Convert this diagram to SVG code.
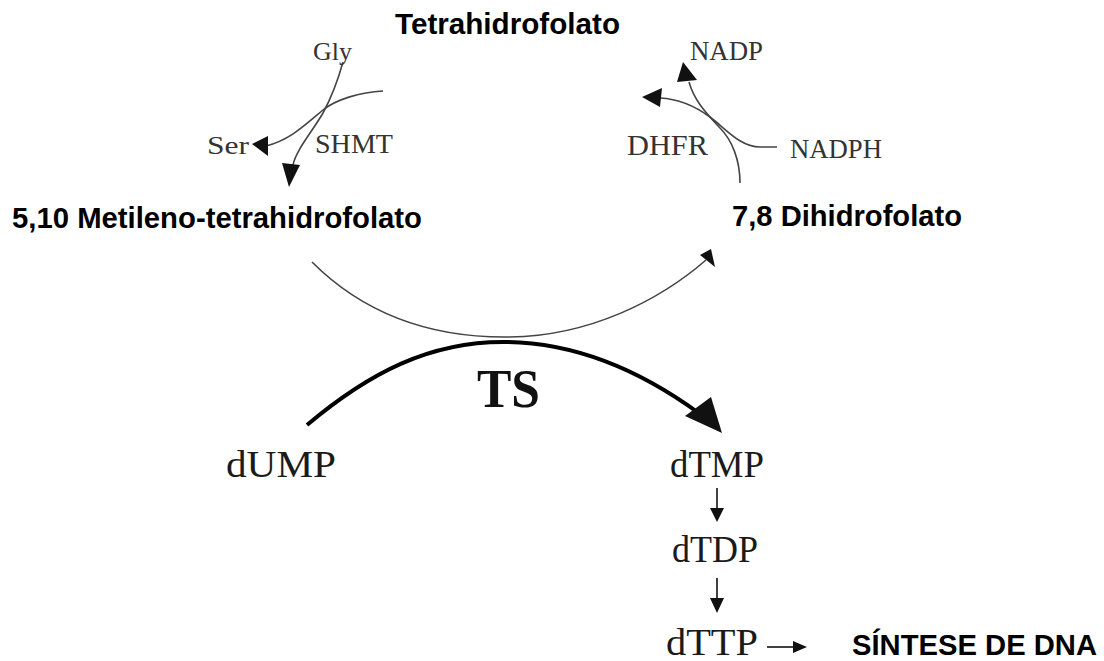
<svg xmlns="http://www.w3.org/2000/svg" width="1104" height="661" viewBox="0 0 1104 661">
<style>
.hd{font-family:"Liberation Sans",Arial,sans-serif;font-weight:bold;font-size:29px;fill:#000}
.sm{font-family:"Liberation Serif","Times New Roman",serif;font-size:27px;fill:#333}
.nu{font-family:"Liberation Serif","Times New Roman",serif;font-size:37px;fill:#1a1a1a}
.thin{fill:none;stroke:#444;stroke-width:1.6}
.ah{fill:#111;stroke:none}
</style>
<rect width="1104" height="661" fill="#fff"/>
<g id="connectors">
  <path class="thin" d="M343,62 C338,80 330,100 323,113 C312,132 296,150 293,165"/>
  <polygon class="ah" points="282,163 300,165 289,187"/>
  <path class="thin" d="M383,91 C360,92 335,100 323,110 C305,125 290,140 266,146"/>
  <polygon class="ah" points="252,144 268,136 268,156"/>
  <path class="thin" d="M740,183 C740,160 732,140 720,128 C705,112 694,100 689,82"/>
  <polygon class="ah" points="677,82 697,80 683,62"/>
  <path class="thin" d="M777,147 L760,147 C740,147 725,128 710,117 C695,106 680,99 660,98"/>
  <polygon class="ah" points="642,97 662,88 660,107"/>
  <path class="thin" d="M312,262 C370,320 440,338 510,337 C590,336 660,300 706,260"/>
  <polygon class="ah" points="700,255 711,249 715,267"/>
  <path d="M307,425 C370,372 430,342 503,342 C575,342 640,370 700,414" fill="none" stroke="#000" stroke-width="4"/>
  <polygon class="ah" points="685,416 711,397 722,433"/>
  <line x1="717" y1="488" x2="717" y2="510" stroke="#111" stroke-width="1.6"/>
  <polygon class="ah" points="710,508 724,508 717,522"/>
  <line x1="717" y1="578" x2="717" y2="600" stroke="#111" stroke-width="1.6"/>
  <polygon class="ah" points="710,598 724,598 717,613"/>
  <line x1="767" y1="647" x2="795" y2="647" stroke="#111" stroke-width="1.6"/>
  <polygon class="ah" points="793,641 807,647 793,653"/>
</g>
<g id="n-thf"><text class="hd" x="395" y="34" textLength="225" lengthAdjust="spacingAndGlyphs">Tetrahidrofolato</text></g>
<g id="n-mthf"><text class="hd" x="12" y="228" textLength="410" lengthAdjust="spacingAndGlyphs">5,10 Metileno-tetrahidrofolato</text></g>
<g id="n-dhf"><text class="hd" x="732" y="226" textLength="230" lengthAdjust="spacingAndGlyphs">7,8 Dihidrofolato</text></g>
<g id="n-gly"><text class="sm" x="313" y="60" textLength="39" lengthAdjust="spacingAndGlyphs" style="font-size:25px">Gly</text></g>
<g id="n-ser"><text class="sm" x="207" y="154" textLength="42" lengthAdjust="spacingAndGlyphs" style="font-size:26px">Ser</text></g>
<g id="n-shmt"><text class="sm" x="315" y="153" textLength="78" lengthAdjust="spacingAndGlyphs">SHMT</text></g>
<g id="n-nadp"><text class="sm" x="690" y="60" textLength="73" lengthAdjust="spacingAndGlyphs">NADP</text></g>
<g id="n-dhfr"><text class="sm" x="627" y="155" textLength="81" lengthAdjust="spacingAndGlyphs" style="font-size:30px">DHFR</text></g>
<g id="n-nadph"><text class="sm" x="790" y="158" textLength="92" lengthAdjust="spacingAndGlyphs">NADPH</text></g>
<g id="n-ts"><text x="477" y="407" textLength="63" lengthAdjust="spacingAndGlyphs" style="font-family:'Liberation Serif','Times New Roman',serif;font-weight:bold;font-size:54px;fill:#111">TS</text></g>
<g id="n-dump"><text class="nu" x="226" y="477" textLength="110" lengthAdjust="spacingAndGlyphs">dUMP</text></g>
<g id="n-dtmp"><text class="nu" x="670" y="477" textLength="94" lengthAdjust="spacingAndGlyphs">dTMP</text></g>
<g id="n-dtdp"><text class="nu" x="672" y="562" textLength="86" lengthAdjust="spacingAndGlyphs">dTDP</text></g>
<g id="n-dttp"><text class="nu" x="666" y="655" textLength="92" lengthAdjust="spacingAndGlyphs">dTTP</text></g>
<g id="n-dna"><text class="hd" x="852" y="655" textLength="245" lengthAdjust="spacingAndGlyphs">SÍNTESE DE DNA</text></g>
</svg>
